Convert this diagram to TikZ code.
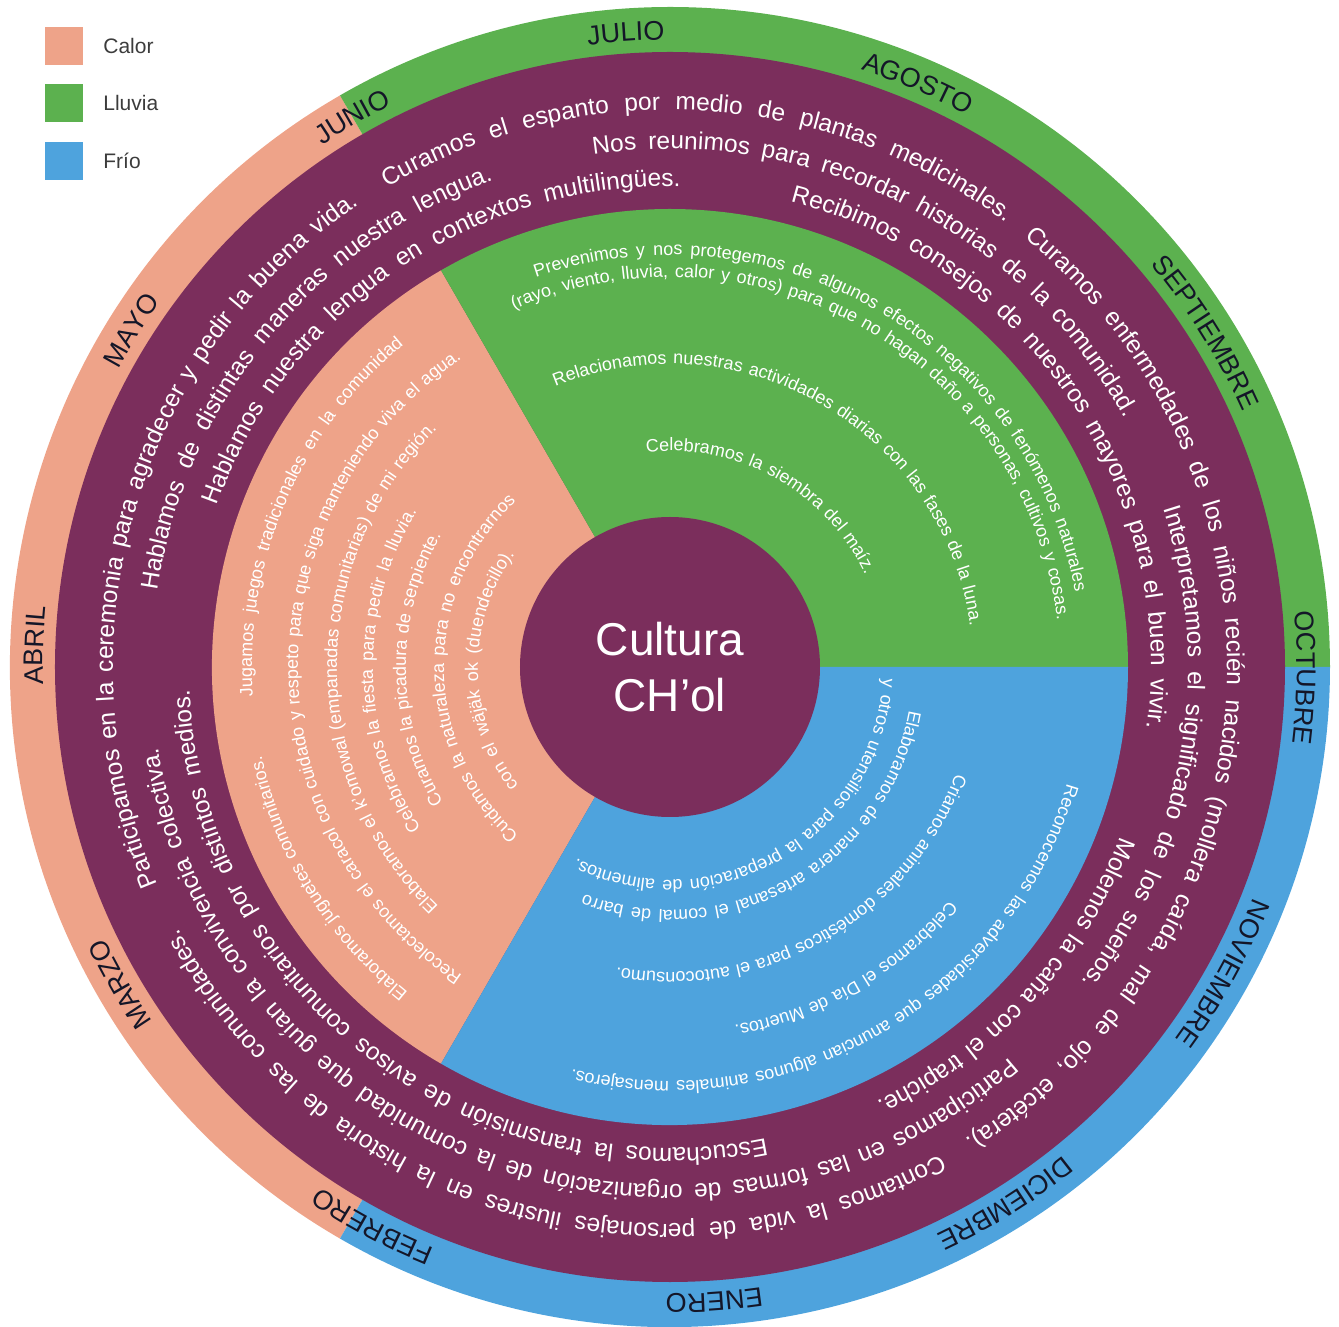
\documentclass[tikz,border=0pt]{standalone}
\usepackage{fontspec}
\setmainfont{Liberation Sans}
\usetikzlibrary{decorations.text,positioning}
\definecolor{calor}{RGB}{238,163,137}
\definecolor{lluvia}{RGB}{92,177,79}
\definecolor{frio}{RGB}{78,163,221}
\definecolor{chol}{RGB}{123,46,92}
\definecolor{mestinta}{RGB}{20,22,40}
\definecolor{leyenda}{RGB}{60,60,60}
\newcommand{\mesfuente}{\fontsize{27}{30}\selectfont\color{mestinta}}
\newcommand{\anillofuente}{\fontsize{24.5}{28}\selectfont\color{white}}
\newcommand{\sectorfuente}{\fontsize{18}{21}\selectfont\color{white}}
\tikzset{
  mes/.style={decorate,decoration={text along path,text align=center,text={|\mesfuente|#1}}},
  anillo/.style={decorate,decoration={text along path,text align={fit to path stretching spaces},text={|\anillofuente|#1}}},
  sector/.style={decorate,decoration={text along path,text align={fit to path stretching spaces},text={|\sectorfuente|#1}}},
}

\begin{document}
\begin{tikzpicture}[
  x=1pt,y=1pt,
  caja/.style={minimum size=38pt,inner sep=0pt},
  etiqueta/.style={inner sep=0pt,text=leyenda,font=\fontsize{21}{24}\selectfont},
  nucleo/.style={circle,fill=chol,minimum size=300pt,inner sep=0pt,align=center,text=white,font=\fontsize{46}{56}\selectfont}
]
\useasboundingbox (-670,-660) rectangle (669,667);

\fill[calor] (0,0) -- (120:660pt) arc[start angle=120,end angle=240,radius=660pt] -- cycle;
\fill[lluvia] (0,0) -- (0:660pt) arc[start angle=0,end angle=120,radius=660pt] -- cycle;
\fill[frio] (0,0) -- (240:660pt) arc[start angle=240,end angle=360,radius=660pt] -- cycle;
\fill[chol] (0,0) circle[radius=615pt];
\fill[calor] (0,0) -- (120:458pt) arc[start angle=120,end angle=240,radius=458pt] -- cycle;
\fill[lluvia] (0,0) -- (0:458pt) arc[start angle=0,end angle=120,radius=458pt] -- cycle;
\fill[frio] (0,0) -- (240:458pt) arc[start angle=240,end angle=360,radius=458pt] -- cycle;

\node[nucleo] (nucleo) at (0,0) {Cultura\\CH’ol};

\node[caja,fill=calor] (cajacalor) at (-606,621) {};
\node[etiqueta,right=20pt of cajacalor] (txtcalor) {Calor};
\node[caja,fill=lluvia,below=19pt of cajacalor] (cajalluvia) {};
\node[etiqueta,right=20pt of cajalluvia] (txtlluvia) {Lluvia};
\node[caja,fill=frio,below=19pt of cajalluvia] (cajafrio) {};
\node[etiqueta,right=20pt of cajafrio] (txtfrio) {Frío};

\path[mes=ABRIL] (203:627pt) arc[start angle=203,end angle=153,radius=627pt];
\path[mes=MAYO] (173:627pt) arc[start angle=173,end angle=123,radius=627pt];
\path[mes=JUNIO] (145:627pt) arc[start angle=145,end angle=95,radius=627pt];
\path[mes=JULIO] (119:627pt) arc[start angle=119,end angle=69,radius=627pt];
\path[mes=AGOSTO] (92:627pt) arc[start angle=92,end angle=42,radius=627pt];
\path[mes=SEPTIEMBRE] (57:627pt) arc[start angle=57,end angle=7,radius=627pt];
\path[mes=OCTUBRE] (24:627pt) arc[start angle=24,end angle=-26,radius=627pt];
\path[mes=NOVIEMBRE] (-4:627pt) arc[start angle=-4,end angle=-54,radius=627pt];
\path[mes=DICIEMBRE] (-33:627pt) arc[start angle=-33,end angle=-83,radius=627pt];
\path[mes=ENERO] (-61:627pt) arc[start angle=-61,end angle=-111,radius=627pt];
\path[mes=FEBRERO] (-93:627pt) arc[start angle=-93,end angle=-143,radius=627pt];
\path[mes=MARZO] (-125:627pt) arc[start angle=-125,end angle=-175,radius=627pt];

\path[anillo={Participamos en la ceremonia para agradecer y pedir la buena vida.}] (203:557pt) arc[start angle=203,end angle=124,radius=557pt];
\path[anillo={Curamos el espanto por medio de plantas medicinales.}] (120.5:557pt) arc[start angle=120.5,end angle=53,radius=557pt];
\path[anillo={Curamos enfermedades de los niños recién nacidos (mollera caída, mal de ojo, etcétera).}] (50.5:557pt) arc[start angle=50.5,end angle=-58,radius=557pt];
\path[anillo={Contamos la vida de personajes ilustres en la historia de las comunidades.}] (-61:557pt) arc[start angle=-61,end angle=-152,radius=557pt];

\path[anillo={Hablamos de distintas maneras nuestra lengua.}] (171.5:518pt) arc[start angle=171.5,end angle=110,radius=518pt];
\path[anillo={Nos reunimos para recordar historias de la comunidad.}] (98.5:518pt) arc[start angle=98.5,end angle=28.7,radius=518pt];
\path[anillo={Interpretamos el significado de los sueños.}] (17.8:518pt) arc[start angle=17.8,end angle=-37.4,radius=518pt];
\path[anillo={Participamos en las formas de organización de la comunidad que guían la convivencia colectiva.}] (-49:518pt) arc[start angle=-49,end angle=-171,radius=518pt];

\path[anillo={Hablamos nuestra lengua en contextos multilingües.}] (160.4:481pt) arc[start angle=160.4,end angle=88.8,radius=481pt];
\path[anillo={Recibimos consejos de nuestros mayores para el buen vivir.}] (75.5:481pt) arc[start angle=75.5,end angle=-7.3,radius=481pt];
\path[anillo={Molemos la caña con el trapiche.}] (-20.6:481pt) arc[start angle=-20.6,end angle=-64.6,radius=481pt];
\path[anillo={Escuchamos la transmisión de avisos comunitarios por distintos medios.}] (-78.5:481pt) arc[start angle=-78.5,end angle=-177.3,radius=481pt];

\path[sector={Prevenimos y nos protegemos de algunos efectos negativos de fenómenos naturales}] (109:412pt) arc[start angle=109,end angle=10.5,radius=412pt];
\path[sector={(rayo, viento, lluvia, calor y otros) para que no hagan daño a personas, cultivos y cosas.}] (113.6:390pt) arc[start angle=113.6,end angle=6.9,radius=390pt];
\path[sector={Relacionamos nuestras actividades diarias con las fases de la luna.}] (112.2:303pt) arc[start angle=112.2,end angle=7.8,radius=303pt];
\path[sector={Celebramos la siembra del maíz.}] (96.3:216pt) arc[start angle=96.3,end angle=25.3,radius=216pt];

\path[sector={Reconocemos las adversidades que anuncian algunos animales mensajeros.}] (-16.4:414pt) arc[start angle=-16.4,end angle=-103.6,radius=414pt];
\path[sector={Celebramos el Día de Muertos.}] (-39.9:364pt) arc[start angle=-39.9,end angle=-79.8,radius=364pt];
\path[sector={Criamos animales domésticos para el autoconsumo.}] (-20.4:305pt) arc[start angle=-20.4,end angle=-100,radius=305pt];
\path[sector={Elaboramos de manera artesanal el comal de barro}] (-10.2:243pt) arc[start angle=-10.2,end angle=-110.7,radius=243pt];
\path[sector={y otros utensilios para la preparación de alimentos.}] (-3:213pt) arc[start angle=-3,end angle=-116,radius=213pt];

\path[sector={Elaboramos juguetes comunitarios.}] (231.2:418pt) arc[start angle=231.2,end angle=192.3,radius=418pt];
\path[sector={Jugamos juegos tradicionales en la comunidad}] (184:418pt) arc[start angle=184,end angle=129.6,radius=418pt];
\path[sector={Recolectamos el caracol con cuidado y respeto para que siga manteniendo viva el agua.}] (236.1:372pt) arc[start angle=236.1,end angle=124.1,radius=372pt];
\path[sector={Elaboramos el k’omowal (empanadas comunitarias) de mi región.}] (226:333pt) arc[start angle=226,end angle=134.4,radius=333pt];
\path[sector={Celebramos la fiesta para pedir la lluvia.}] (213:297pt) arc[start angle=213,end angle=148.5,radius=297pt];
\path[sector={Curamos la picadura de serpiente.}] (210.8:264pt) arc[start angle=210.8,end angle=150,radius=264pt];
\path[sector={Cuidamos la naturaleza para no encontrarnos}] (228:226pt) arc[start angle=228,end angle=132.9,radius=226pt];
\path[sector={con el wäjäk ok (duendecillo).}] (218:192pt) arc[start angle=218,end angle=144,radius=192pt];

\end{tikzpicture}
\end{document}
